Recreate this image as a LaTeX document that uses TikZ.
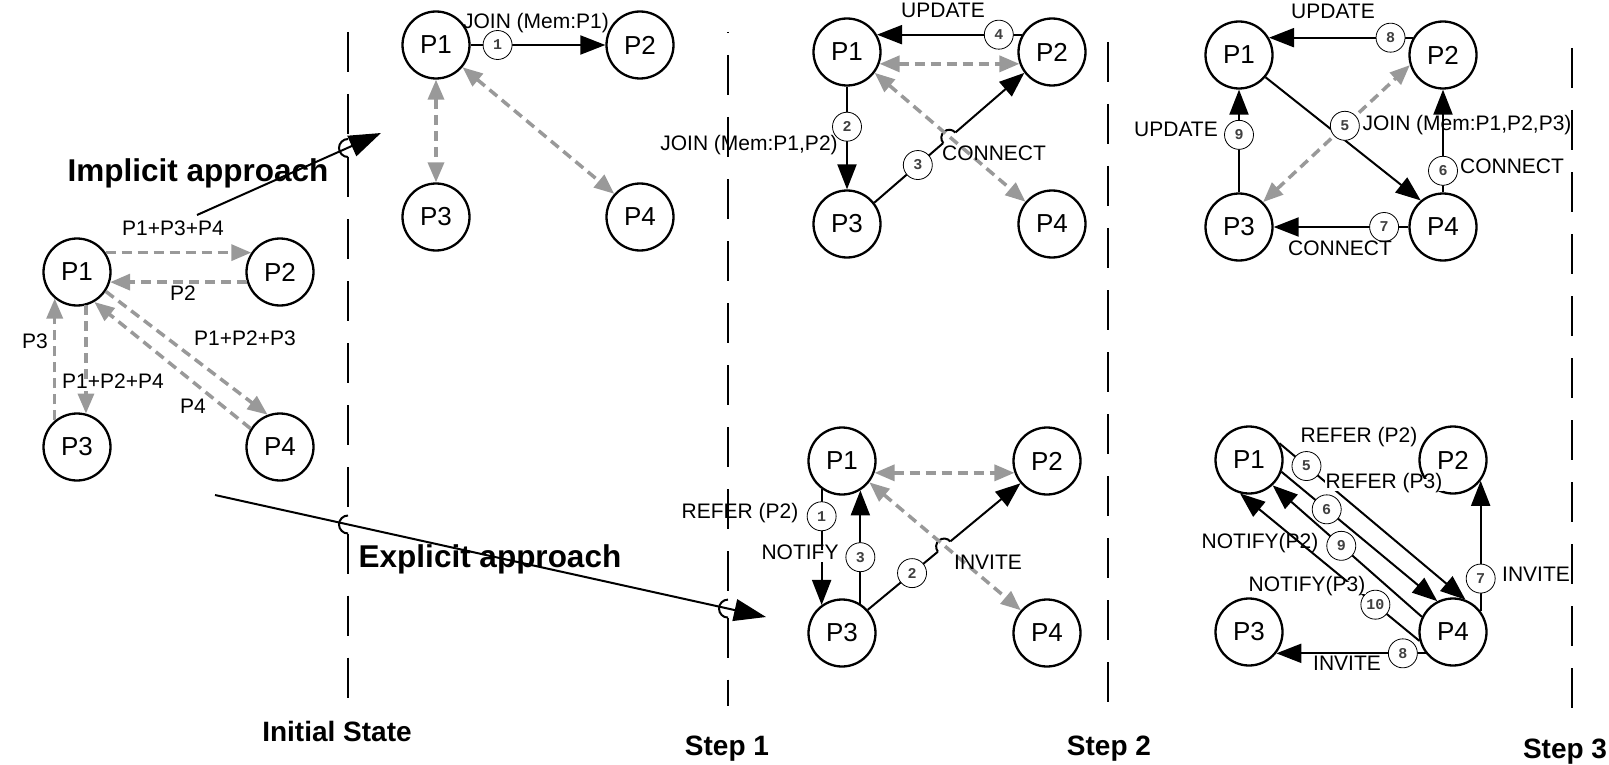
\documentclass[tikz,border=0pt]{standalone}
\usepackage{fontspec}
\setmainfont{Liberation Sans}
\newfontfamily\badgefont{Liberation Mono}
\usetikzlibrary{arrows.meta,calc}
\definecolor{grayarr}{RGB}{153,153,153}
\tikzset{
  pnode/.style={circle, draw=black, line width=2.3pt, minimum size=67pt, inner sep=0pt, font=\fontsize{26}{30}\selectfont},
  badge/.style={circle, draw=black, solid, line width=0.8pt, fill=white, minimum size=29pt, inner sep=0pt, font=\badgefont\bfseries\fontsize{15}{17}\selectfont, text=black!75},
  blk/.style={draw=black, line width=2pt, -{Triangle[length=25pt,width=19pt]}},
  gr/.style={draw=grayarr, line width=3.5pt, dash pattern=on 10pt off 6pt, -{Triangle[length=20pt,width=16pt]}},
  grd/.style={draw=grayarr, line width=3.5pt, dash pattern=on 10pt off 6pt, {Triangle[length=20pt,width=16pt]}-{Triangle[length=20pt,width=16pt]}},
  lbl/.style={font=\fontsize{21}{25}\selectfont, inner sep=1pt, text height=1.5ex, text depth=.25ex},
  lblf/.style={lbl, fill=white},
  big/.style={font=\bfseries\fontsize{31.5}{36}\selectfont, inner sep=0pt, anchor=base},
  steplbl/.style={font=\bfseries\fontsize{28}{32}\selectfont, inner sep=0pt, anchor=base},
  sepline/.style={draw=black, line width=2pt, dash pattern=on 40pt off 22pt},
  hoparc/.style={draw=black, line width=2pt},
  erase/.style={draw=white, line width=4.5pt},
  apr/.style={draw=black, line width=2pt, -{Triangle[length=32pt,width=22pt]}},
}
\begin{document}
\begin{tikzpicture}[x=1pt,y=-1pt]
\useasboundingbox (0,0) rectangle (1609,765);
% ---------- nodes
\node[pnode] (i1) at (77,272) {P1};
\node[pnode] (i2) at (280,272) {P2};
\node[pnode] (i3) at (77,447) {P3};
\node[pnode] (i4) at (280,447) {P4};
\node[pnode] (a1) at (436,45) {P1};
\node[pnode] (a2) at (640,45) {P2};
\node[pnode] (a3) at (436,217) {P3};
\node[pnode] (a4) at (640,217) {P4};
\node[pnode] (b1) at (847,52) {P1};
\node[pnode] (b2) at (1052,52) {P2};
\node[pnode] (b3) at (847,224) {P3};
\node[pnode] (b4) at (1052,224) {P4};
\node[pnode] (c1) at (1239,55) {P1};
\node[pnode] (c2) at (1443,55) {P2};
\node[pnode] (c3) at (1239,227) {P3};
\node[pnode] (c4) at (1443,227) {P4};
\node[pnode] (d1) at (842,461) {P1};
\node[pnode] (d2) at (1047,461) {P2};
\node[pnode] (d3) at (842,633) {P3};
\node[pnode] (d4) at (1047,633) {P4};
\node[pnode] (e1) at (1249,460) {P1};
\node[pnode] (e2) at (1453,460) {P2};
\node[pnode] (e3) at (1249,632) {P3};
\node[pnode] (e4) at (1453,632) {P4};
% ---------- black arrows
\draw[blk] (a1.east) -- node[badge,pos=.2]{1} (a2.west);
\draw[blk] (b2.150) -- node[badge,pos=.16]{4} (b1.30);
\draw[blk] (b1.south) -- node[badge,pos=.39]{2} (b3.north);
\draw[blk] (b3.38) -- node[badge,pos=.29]{3} (b2.217);
\draw[blk] (c2.150) -- node[badge,pos=.156]{8} (c1.30);
\draw[blk] (c1.-40) -- (c4.130);
\draw[blk] (c4.north) -- node[badge,pos=.21]{6} (c2.south);
\draw[blk] (c4.west) -- node[badge,pos=.18]{7} (c3.east);
\draw[blk] (c3.north) -- node[badge,pos=.56]{9} (c1.south);
\draw[blk] (d1.-126) -- node[badge,pos=.235]{1} (d3.126);
\draw[blk] (d3.58) -- node[badge,pos=.41]{3} (d1.-58);
\draw[blk] (d3.42) -- node[badge,pos=.29]{2} (d2.220);
\draw[blk] (e1.29) -- node[badge,pos=.146]{5} (e4.69);
\draw[blk] (e1.-20) -- node[badge,pos=.29]{6} (e4.117);
\draw[blk] (e4.154) -- node[badge,pos=.54]{9} (e1.-47);
\draw[blk] (e4.195) -- node[badge,pos=.246]{10} (e1.-105);
\draw[blk] (e4.37) -- node[badge,pos=.25]{7} (e2.-37);
\draw[blk] (e4.218) -- node[badge,pos=.153]{8} (e3.-38);
% ---------- hops of black lines over grey ones
\draw[erase] ($(b3.38)!.5!(b2.217)!8pt!(b3.38)$) -- ($(b3.38)!.5!(b2.217)!8pt!(b2.217)$);
\draw[hoparc] ($(b3.38)!.5!(b2.217)!8pt!(b3.38)$) arc[start angle=221, delta angle=-180, radius=8pt];
\draw[erase] ($(d3.42)!.5!(d2.220)!8pt!(d3.42)$) -- ($(d3.42)!.5!(d2.220)!8pt!(d2.220)$);
\draw[hoparc] ($(d3.42)!.5!(d2.220)!8pt!(d3.42)$) arc[start angle=219.6, delta angle=-180, radius=8pt];
% ---------- grey dashed arrows
\draw[gr] (i1.34) -- (i2.146);
\draw[gr] (i2.197) -- (i1.343);
\draw[gr] (i1.-75) -- (i3.75);
\draw[gr] (i3.130) -- (i1.230);
\draw[gr] (i1.-34) -- (i4.111);
\draw[gr] (i4.148) -- (i1.-60);
\draw[grd] (a1.south) -- (a3.north);
\draw[grd] (a1.-40) -- (a4.138);
\draw[grd] (b1.-20) -- (b2.200);
\draw[grd] (b1.-37) -- (b4.140);
\draw[grd] (c3.46) -- node[badge,pos=.557]{5} (c2.197);
\draw[grd] (d1.-20) -- (d2.200);
\draw[grd] (d1.-38) -- (d4.139);
% ---------- labels
\node[lblf] (t1) at (173,232) {P1+P3+P4};
\node[lblf] (t2) at (183,297) {P2};
\node[lblf] (t3) at (113,385) {P1+P2+P4};
\node[lblf] (t4) at (35,345) {P3};
\node[lbl] (t5) at (245,342) {P1+P2+P3};
\node[lbl] (t6) at (193,410) {P4};
\node[lbl] (t7) at (536,25) {JOIN (Mem:P1)};
\node[lbl] (t8) at (943,14) {UPDATE};
\node[lbl] (t9) at (749,147) {JOIN (Mem:P1,P2)};
\node[lbl] (t10) at (994,157) {CONNECT};
\node[lbl] (t11) at (1333,15) {UPDATE};
\node[lbl] (t12) at (1467,127) {JOIN (Mem:P1,P2,P3)};
\node[lbl] (t13) at (1512,170) {CONNECT};
\node[lbl] (t14) at (1340,252) {CONNECT};
\node[lbl] (t15) at (1176,133) {UPDATE};
\node[lbl] (t16) at (740,515) {REFER (P2)};
\node[lblf] (t17) at (800,556) {NOTIFY};
\node[lbl] (t18) at (988,566) {INVITE};
\node[lblf] (t19) at (1359,439) {REFER (P2)};
\node[lblf] (t20) at (1384,485) {REFER (P3)};
\node[lbl] (t21) at (1260,545) {NOTIFY(P2)};
\node[lblf] (t22) at (1307,588) {NOTIFY(P3)};
\node[lbl] (t23) at (1536,578) {INVITE};
\node[lbl] (t24) at (1347,667) {INVITE};
% ---------- separators (with hops over the approach arrows)
\draw[sepline] (348,32) -- (348,139);
\draw[hoparc] (348,139) arc[start angle=90, delta angle=180, radius=9pt];
\draw[sepline] (348,157) -- (348,515.5);
\draw[hoparc] (348,515.5) arc[start angle=90, delta angle=180, radius=9pt];
\draw[sepline] (348,533.5) -- (348,700);
\draw[sepline, dash phase=39pt] (728,32) -- (728,599.6);
\draw[hoparc] (728,599.6) arc[start angle=90, delta angle=180, radius=9pt];
\draw[sepline] (728,617.6) -- (728,706);
\draw[sepline] (1108,42) -- (1108,706);
\draw[sepline] (1572,48) -- (1572,712);
% ---------- approach arrows
\coordinate (ia) at (197,215);
\coordinate (ib) at (381,133);
\draw[apr] (ia) -- (ib);
\coordinate (ea) at (215,495);
\coordinate (eb) at (766,617);
\draw[apr] (ea) -- (eb);
\node[big] (impl) at (198,182) {Implicit approach};
\node[big] (expl) at (490,567) {Explicit approach};
\node[steplbl] (s0) at (337,741) {Initial State};
\node[steplbl] (s1) at (727,755) {Step 1};
\node[steplbl] (s2) at (1109,755) {Step 2};
\node[steplbl] (s3) at (1565,758) {Step 3};
\end{tikzpicture}
\end{document}
